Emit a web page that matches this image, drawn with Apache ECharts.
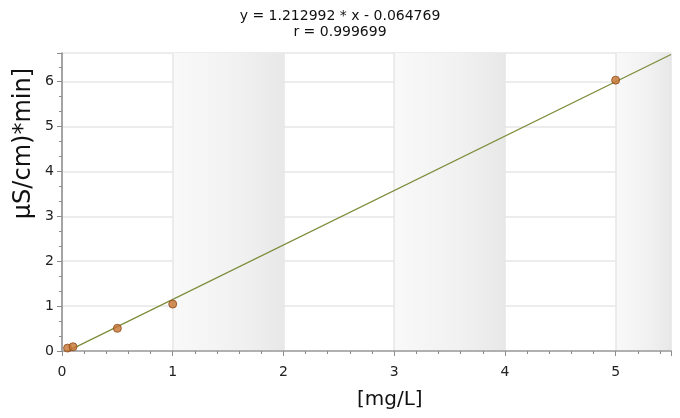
<!DOCTYPE html>
<html>
<head>
<meta charset="utf-8">
<script src="https://cdn.jsdelivr.net/npm/echarts@6/dist/echarts.min.js"></script>
<style>
  html, body { margin: 0; padding: 0; background: #fff; }
  #chart { width: 680px; height: 418px; }
</style>
</head>
<body>
<div id="chart"></div>
<script>
// Calibration standards: concentration [mg/L] vs. peak area [µS/cm)*min]
const concentration = [0.05, 0.1, 0.5, 1.0, 5.0];
const peakArea = [0.065, 0.095, 0.505, 1.045, 6.035];

// Linear fit reported for the calibration
const slope = 1.212992;
const intercept = -0.064769;
const correlation = 0.999699;
const fitRange = [0.05, 5.5];

const xTicks = [0, 1, 2, 3, 4, 5];
const yTicks = [0, 1, 2, 3, 4, 5, 6];

const FONT = 'DejaVu Sans';

const points = concentration.map((c, i) => [c, peakArea[i]]);
const fitLine = fitRange.map(x => [x, slope * x + intercept]);

const bandGradient = new echarts.graphic.LinearGradient(0, 0, 1, 0, [
  { offset: 0, color: '#f9f9f9' },
  { offset: 0.6, color: '#f1f1f1' },
  { offset: 1, color: '#e8e8e8' }
]);

const titleStyle = { fontFamily: FONT, fontSize: 14, fontWeight: 'normal', color: '#111' };

const chart = echarts.init(document.getElementById('chart'), null, { renderer: 'canvas' });

chart.setOption({
  backgroundColor: '#ffffff',
  animation: false,
  title: [
    {
      text: 'y = ' + slope.toFixed(6) + ' * x - ' + Math.abs(intercept).toFixed(6),
      left: 'center',
      top: 9,
      padding: 0,
      textStyle: titleStyle
    },
    {
      text: 'r = ' + correlation.toFixed(6),
      left: 'center',
      top: 25,
      padding: 0,
      textStyle: titleStyle
    }
  ],
  grid: { left: 62, right: 9, top: 53, bottom: 67 },
  xAxis: [{
    type: 'value',
    min: xTicks[0],
    max: 5.5,
    interval: 1,
    axisLine: { show: true, onZero: false, lineStyle: { color: '#8c8c8c', width: 1.5 } },
    axisTick: { show: true, length: 5, lineStyle: { color: '#8c8c8c' } },
    minorTick: { show: true, splitNumber: 5, length: 3, lineStyle: { color: '#8c8c8c' } },
    axisLabel: {
      fontFamily: FONT, fontSize: 14, color: '#222', margin: 14,
      formatter: v => (xTicks.includes(v) ? String(v) : '')
    },
    splitLine: { show: true, lineStyle: { color: '#e6e6e6', width: 1.5 } },
    splitArea: { show: true, areaStyle: { color: ['rgba(255,255,255,0)', bandGradient] } }
  }, {
    type: 'value',
    position: 'top',
    min: 0,
    max: 5.5,
    axisLine: { show: true, lineStyle: { color: '#b4b4b4', width: 1.5 } },
    axisTick: { show: false },
    axisLabel: { show: false },
    splitLine: { show: false }
  }],
  yAxis: {
    type: 'value',
    min: yTicks[0],
    max: 6.64,
    interval: 1,
    axisLine: { show: true, onZero: false, lineStyle: { color: '#8c8c8c', width: 1.5 } },
    axisTick: { show: true, length: 5, lineStyle: { color: '#8c8c8c' } },
    minorTick: { show: true, splitNumber: 3, length: 3, lineStyle: { color: '#8c8c8c' } },
    axisLabel: {
      fontFamily: FONT, fontSize: 14, color: '#222', margin: 8,
      formatter: v => (yTicks.includes(v) ? String(v) : '')
    },
    splitLine: { show: true, lineStyle: { color: '#e6e6e6', width: 1.5 } }
  },
  graphic: [
    {
      type: 'text',
      left: 12,
      top: 68,
      rotation: Math.PI / 2,
      style: { text: 'µS/cm)*min]', font: '24px "' + FONT + '"', fill: '#111' }
    },
    {
      type: 'text',
      left: 357,
      top: 390,
      style: { text: '[mg/L]', font: '20px "' + FONT + '"', fill: '#111' }
    }
  ],
  series: [
    {
      type: 'line',
      data: fitLine,
      showSymbol: false,
      symbol: 'none',
      clip: true,
      lineStyle: { color: '#7b8d3a', width: 1.3 },
      z: 2
    },
    {
      type: 'scatter',
      data: points,
      symbol: 'circle',
      symbolSize: 8,
      itemStyle: { color: '#c7732f', borderColor: '#8a4a1c', borderWidth: 1 },
      z: 3
    }
  ]
});
</script>
</body>
</html>
